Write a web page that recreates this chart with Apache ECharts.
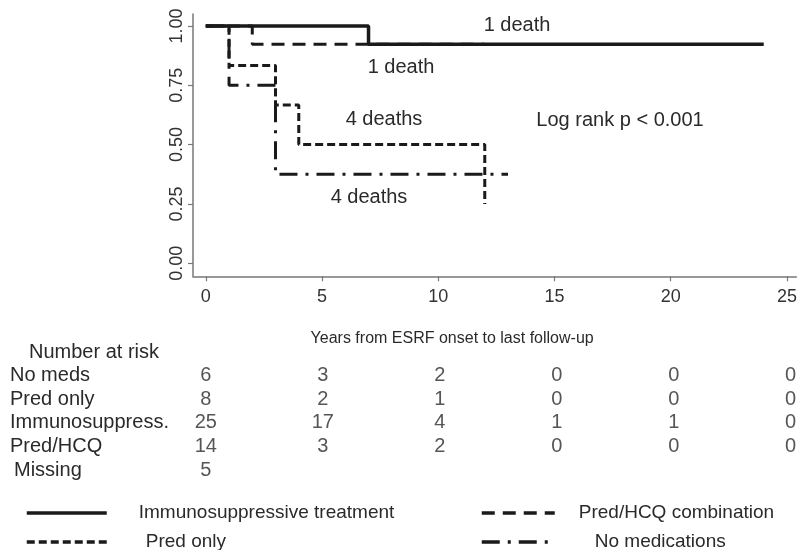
<!DOCTYPE html>
<html><head><meta charset="utf-8">
<script src="https://cdn.jsdelivr.net/npm/echarts@6/dist/echarts.min.js"></script>
<style>html,body{margin:0;padding:0;background:#fff}#c{width:800px;height:550px}</style>
</head><body><div id="c"></div>
<script>
// ---- data ----
const xTicks = [0, 5, 10, 15, 20, 25];
const yTicks = [0, 0.25, 0.5, 0.75, 1];

// Kaplan-Meier step points [years, survival]
const immunoCurve   = [[0, 1], [7, 0.923], [24, 0.923]];
const predHcqCurve  = [[0, 1], [2, 0.923], [12, 0.923]];
const predOnlyCurve = [[0, 1], [1, 0.833], [3, 0.667], [4, 0.5], [12, 0.25]];
const noMedsCurve   = [[0, 1], [1, 0.75], [3, 0.375], [13, 0.375]];

const seriesNames = ['Immunosuppressive treatment', 'Pred/HCQ combination', 'Pred only', 'No medications'];

const riskTimes   = [0, 5, 10, 15, 20, 25];
const riskRows    = ['Number at risk', 'No meds', 'Pred only', 'Immunosuppress.', 'Pred/HCQ', 'Missing'];
const riskNoMeds   = [6, 3, 2, 0, 0, 0];
const riskPredOnly = [8, 2, 1, 0, 0, 0];
const riskImmuno   = [25, 17, 4, 1, 1, 0];
const riskPredHcq  = [14, 3, 2, 0, 0, 0];
const riskMissing  = [5];

const annotationTexts = ['1 death', '1 death', '4 deaths', 'Log rank p < 0.001', '4 deaths'];

// ---- build ----
const FONT = "'Liberation Sans', Arial, sans-serif";
const INK = '#1a1a1a';
const TXT = '#2a2a2a';

const riskSeriesRows = [
  ['No meds', riskNoMeds], ['Pred only', riskPredOnly], ['Immunosuppress.', riskImmuno],
  ['Pred/HCQ', riskPredHcq], ['Missing', riskMissing]
];
const riskData = [];
riskSeriesRows.forEach(([row, vals]) => {
  vals.forEach((v, j) => riskData.push([riskTimes[j], row, v]));
});

function km(name, data, type, width, z) {
  return {
    name, type: 'line', step: 'end', data, symbol: 'none', showSymbol: false,
    xAxisIndex: 0, yAxisIndex: 0, z,
    lineStyle: { color: INK, width, type, cap: 'butt' },
    itemStyle: { color: INK },
    emphasis: { disabled: true }
  };
}

function legendItem(name, left, top, itemWidth, pad) {
  return {
    orient: 'horizontal', left, top, itemWidth, itemHeight: 10, selectedMode: false,
    data: [name], itemStyle: { opacity: 0 },
    lineStyle: { width: 3.5 },
    formatter: n => '{t|' + n + '}',
    textStyle: { fontFamily: FONT, fontSize: 19, color: TXT, lineHeight: 20,
      rich: { t: { fontFamily: FONT, fontSize: 19, color: TXT, lineHeight: 20, padding: [0, 0, 0, pad] } } }
  };
}

const chart = echarts.init(document.getElementById('c'), null, { renderer: 'canvas' });
chart.setOption({
  animation: false,
  backgroundColor: '#fff',
  grid: [
    { left: 193, top: 14.1, width: 607, height: 262.2 },
    { left: 193, top: 340.2, width: 607, height: 141.6 }
  ],
  xAxis: [
    {
      gridIndex: 0, type: 'value', min: -0.55, max: 25.4,
      axisLine: { show: true, onZero: false, lineStyle: { color: '#777', width: 1.5 } },
      axisTick: { show: true, length: 5, customValues: xTicks, lineStyle: { color: '#777', width: 1.2 } },
      axisLabel: { customValues: xTicks, margin: 12, fontFamily: FONT, fontSize: 18, color: '#333' },
      splitLine: { show: false },
      name: 'Years from ESRF onset to last follow-up', nameLocation: 'middle', nameGap: 54,
      nameTextStyle: { fontFamily: FONT, fontSize: 16, color: TXT, padding: [0, 85, 0, 0] }
    },
    { gridIndex: 1, type: 'value', min: -0.55, max: 25.4, show: false }
  ],
  yAxis: [
    {
      gridIndex: 0, type: 'value', min: -0.055, max: 1.05,
      axisLine: { show: true, onZero: false, lineStyle: { color: '#777', width: 1.5 } },
      axisTick: { show: true, length: 5, customValues: yTicks, lineStyle: { color: '#777', width: 1.2 } },
      axisLabel: { customValues: yTicks, rotate: 90, margin: 7, fontFamily: FONT, fontSize: 18, color: '#333',
        formatter: v => v.toFixed(2) },
      splitLine: { show: false }
    },
    {
      gridIndex: 1, type: 'category', data: riskRows, inverse: true,
      axisLine: { show: false }, axisTick: { show: false }, splitLine: { show: false },
      axisLabel: {
        interval: 0, align: 'left', margin: 183, fontFamily: FONT, fontSize: 20, color: TXT,
        formatter: v => v === 'Number at risk' ? '{h|' + v + '}' : (v === 'Missing' ? '{m|' + v + '}' : '{n|' + v + '}'),
        rich: {
          h: { fontFamily: FONT, fontSize: 20, color: TXT, padding: [0, 0, 0, 19] },
          m: { fontFamily: FONT, fontSize: 20, color: TXT, padding: [0, 0, 0, 4] },
          n: { fontFamily: FONT, fontSize: 20, color: TXT }
        }
      }
    }
  ],
  legend: [
    legendItem(seriesNames[0], 20, 498, 80, 27),
    legendItem(seriesNames[2], 20, 527, 80, 34),
    legendItem(seriesNames[1], 475, 498, 73, 19),
    legendItem(seriesNames[3], 475, 527, 73, 35)
  ],
  series: [
    km(seriesNames[1], predHcqCurve, [13, 8], 3, 2),
    km(seriesNames[3], noMedsCurve, [18, 8, 3, 8], 3, 3),
    km(seriesNames[2], predOnlyCurve, [8, 4], 3, 4),
    km(seriesNames[0], immunoCurve, 'solid', 3.5, 5),
    {
      type: 'scatter', xAxisIndex: 1, yAxisIndex: 1, data: riskData,
      symbolSize: 0, silent: true,
      label: { show: true, position: 'inside', formatter: p => String(p.value[2]),
        fontFamily: FONT, fontSize: 20, color: TXT }
    }
  ],
  graphic: [
    { type: 'text', x: 517, y: 25, style: { text: annotationTexts[0], font: '20px ' + FONT, fill: TXT, align: 'center', verticalAlign: 'middle' } },
    { type: 'text', x: 401, y: 67, style: { text: annotationTexts[1], font: '20px ' + FONT, fill: TXT, align: 'center', verticalAlign: 'middle' } },
    { type: 'text', x: 384, y: 119, style: { text: annotationTexts[2], font: '20px ' + FONT, fill: TXT, align: 'center', verticalAlign: 'middle' } },
    { type: 'text', x: 620, y: 120, style: { text: annotationTexts[3], font: '20px ' + FONT, fill: TXT, align: 'center', verticalAlign: 'middle' } },
    { type: 'text', x: 369, y: 197, style: { text: annotationTexts[4], font: '20px ' + FONT, fill: TXT, align: 'center', verticalAlign: 'middle' } }
  ]
});
</script></body></html>
